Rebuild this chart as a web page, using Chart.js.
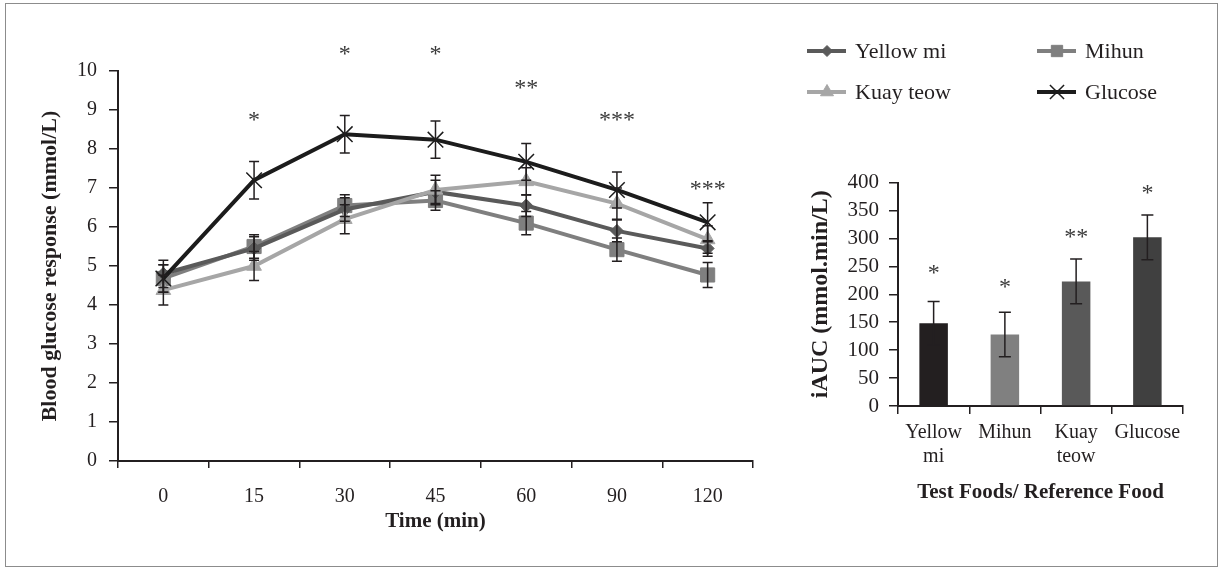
<!DOCTYPE html>
<html>
<head>
<meta charset="utf-8">
<script src="https://cdn.jsdelivr.net/npm/chart.js@4.4.1/dist/chart.umd.min.js"></script>
<style>
  body { margin: 0; background: #fff; }
  #wrap { position: relative; width: 1220px; height: 569px; }
  #frame { position: absolute; left: 5px; top: 3px; width: 1211px; height: 562px; border: 1.5px solid #8c8c8c; }
  #lineChart { position: absolute; left: 0; top: 0; }
  #barChart { position: absolute; left: 790px; top: 160px; }
</style>
</head>
<body>
<div id="wrap">
  <div id="frame"></div>
  <canvas id="lineChart" width="1220" height="569"></canvas>
  <canvas id="barChart" width="420" height="350"></canvas>
</div>
<script>
// time course (mmol/L)
const timePoints = ['0', '15', '30', '45', '60', '90', '120'];
const yellowMi = [4.8, 5.45, 6.45, 6.9, 6.55, 5.9, 5.45];
const yellowMiErr = [0.35, 0.3, 0.3, 0.3, 0.28, 0.28, 0.2];
const mihun = [4.68, 5.5, 6.55, 6.68, 6.1, 5.42, 4.77];
const mihunErr = [0.35, 0.3, 0.28, 0.25, 0.3, 0.3, 0.32];
const kuayTeow = [4.38, 5.0, 6.2, 6.95, 7.17, 6.6, 5.68];
const kuayTeowErr = [0.38, 0.37, 0.37, 0.38, 0.35, 0.4, 0.35];
const glucose = [4.68, 7.2, 8.38, 8.24, 7.67, 6.95, 6.12];
const glucoseErr = [0.35, 0.48, 0.48, 0.48, 0.47, 0.46, 0.5];
const lineSig = ['', '*', '*', '*', '**', '***', '***'];
const lineSigLevel = [null, 8.82, 10.49, 10.49, 9.62, 8.82, 7.05];

// iAUC (mmol.min/L)
const foods = [['Yellow', 'mi'], 'Mihun', ['Kuay', 'teow'], 'Glucose'];
const iauc = [148, 128, 223, 302];
const iaucErr = [39, 40, 40, 40];
const barSig = ['*', '*', '**', '*'];
const barSigLevel = [243, 217, 308, 386];

const FONT = "'Liberation Serif', 'Times New Roman', serif";
const INK = '#231f20';

const errorBars = {
  id: 'errorBars',
  afterDatasetsDraw(chart) {
    const ctx = chart.ctx;
    const yScale = chart.scales.y;
    ctx.save();
    ctx.strokeStyle = INK;
    ctx.lineWidth = 1.5;
    chart.data.datasets.forEach((ds, i) => {
      if (!ds.errors) return;
      const meta = chart.getDatasetMeta(i);
      meta.data.forEach((el, j) => {
        const v = ds.data[j], e = ds.errors[j];
        const x = el.x;
        const top = yScale.getPixelForValue(v + e);
        const bot = yScale.getPixelForValue(v - e);
        const cap = ds.capWidth || 4;
        ctx.beginPath();
        ctx.moveTo(x, top); ctx.lineTo(x, bot);
        ctx.moveTo(x - cap, top); ctx.lineTo(x + cap, top);
        ctx.moveTo(x - cap, bot); ctx.lineTo(x + cap, bot);
        ctx.stroke();
      });
    });
    ctx.restore();
  }
};

function sigPlugin(marks, levels, size) {
  return {
    id: 'sigMarks',
    afterDraw(chart) {
      const ctx = chart.ctx;
      const meta = chart.getDatasetMeta(0);
      ctx.save();
      ctx.font = size + 'px ' + FONT;
      ctx.fillStyle = '#3a3a3a';
      ctx.textAlign = 'center';
      ctx.textBaseline = 'alphabetic';
      marks.forEach((m, i) => {
        if (!m) return;
        const y = chart.scales.y.getPixelForValue(levels[i]);
        ctx.fillText(m, meta.data[i].x, y + size * 0.4);
      });
      ctx.restore();
    }
  };
}

const sideLegend = {
  id: 'sideLegend',
  afterDraw(chart) {
    const ctx = chart.ctx;
    ctx.save();
    chart.data.datasets.forEach((ds, i) => {
      const col = i % 2, row = Math.floor(i / 2);
      const x = 807 + col * 230, y = 51 + row * 41;
      ctx.strokeStyle = ds.borderColor;
      ctx.lineWidth = 4;
      ctx.beginPath();
      ctx.moveTo(x, y); ctx.lineTo(x + 39, y);
      ctx.stroke();
      ctx.fillStyle = ds.pointBackgroundColor;
      ctx.strokeStyle = ds.pointBorderColor;
      ctx.lineWidth = ds.pointBorderWidth;
      Chart.helpers.drawPoint(ctx, {
        pointStyle: ds.pointStyle,
        radius: ds.legendRadius,
        rotation: 0,
        borderWidth: ds.pointBorderWidth
      }, x + 20, y);
      ctx.fillStyle = INK;
      ctx.font = '22px ' + FONT;
      ctx.textBaseline = 'middle';
      ctx.textAlign = 'left';
      ctx.fillText(ds.label, x + 48, y + 1);
    });
    ctx.restore();
  }
};

function series(label, data, errors, color, style, radius, legendRadius, order) {
  return {
    label, data, errors, order,
    borderColor: color,
    borderWidth: 4,
    tension: 0,
    fill: false,
    pointStyle: style,
    pointRadius: radius,
    legendRadius,
    pointBackgroundColor: color,
    pointBorderColor: color,
    pointBorderWidth: style === 'crossRot' ? 1.5 : 1,
    capWidth: 5
  };
}

new Chart(document.getElementById('lineChart'), {
  type: 'line',
  data: {
    labels: timePoints,
    datasets: [
      series('Yellow mi', yellowMi, yellowMiErr, '#5a5a5a', 'rectRot', 6.5, 5.5, 2),
      series('Mihun', mihun, mihunErr, '#7f7f7f', 'rect', 10, 8, 3),
      series('Kuay teow', kuayTeow, kuayTeowErr, '#a6a6a6', 'triangle', 8.5, 7.5, 1),
      series('Glucose', glucose, glucoseErr, '#1c1c1c', 'crossRot', 11, 10, 0)
    ]
  },
  options: {
    responsive: false,
    animation: false,
    layout: { padding: { left: 0, top: 71, right: 467, bottom: 0 } },
    plugins: { legend: { display: false }, tooltip: { enabled: false } },
    scales: {
      x: {
        offset: true,
        grid: { offset: true, drawOnChartArea: false, tickLength: 7, color: INK, lineWidth: 1.5 },
        border: { color: INK, width: 2 },
        ticks: { font: { family: FONT, size: 20 }, color: INK, padding: 17, maxRotation: 0 },
        title: {
          display: true, text: 'Time (min)', color: INK,
          font: { family: FONT, size: 21, weight: 'bold' },
          padding: { top: 0, bottom: 35 }
        },
        afterFit(s) { s.height = 108; }
      },
      y: {
        min: 0, max: 10,
        grid: { drawOnChartArea: false, tickLength: 9, color: INK, lineWidth: 1.5 },
        border: { color: INK, width: 2 },
        ticks: { stepSize: 1, autoSkip: false, font: { family: FONT, size: 20 }, color: INK, padding: 12 },
        title: {
          display: true, text: 'Blood glucose response (mmol/L)', color: INK,
          font: { family: FONT, size: 22, weight: 'bold' },
          padding: { top: 37, bottom: 0 }
        },
        afterFit(s) { s.width = 118; }
      }
    }
  },
  plugins: [errorBars, sigPlugin(lineSig, lineSigLevel, 24), sideLegend]
});

new Chart(document.getElementById('barChart'), {
  type: 'bar',
  data: {
    labels: foods,
    datasets: [{
      data: iauc,
      errors: iaucErr,
      capWidth: 6,
      backgroundColor: ['#231f20', '#808080', '#595959', '#404040'],
      barPercentage: 0.4,
      categoryPercentage: 1
    }]
  },
  options: {
    responsive: false,
    animation: false,
    layout: { padding: { left: 0, top: 19, right: 27, bottom: 0 } },
    plugins: { legend: { display: false }, tooltip: { enabled: false } },
    scales: {
      x: {
        grid: { drawOnChartArea: false, tickLength: 8, color: INK, lineWidth: 1.5 },
        border: { color: INK, width: 2 },
        ticks: {
          font: { family: FONT, size: 20, lineHeight: 1.2 }, color: INK, padding: 7,
          maxRotation: 0, minRotation: 0, autoSkip: false
        },
        title: {
          display: true, text: 'Test Foods/ Reference Food', color: INK,
          font: { family: FONT, size: 21, weight: 'bold' },
          padding: { top: 0, bottom: 5 }
        },
        afterFit(s) { s.height = 104; }
      },
      y: {
        min: 0, max: 400,
        grid: { drawOnChartArea: false, tickLength: 9, color: INK, lineWidth: 1.5 },
        border: { color: INK, width: 2 },
        ticks: { stepSize: 50, autoSkip: false, font: { family: FONT, size: 21 }, color: INK, padding: 10 },
        title: {
          display: true, text: 'iAUC (mmol.min/L)', color: INK,
          font: { family: FONT, size: 24, weight: 'bold' },
          padding: { top: 16, bottom: 0 }
        },
        afterFit(s) { s.width = 108; }
      }
    }
  },
  plugins: [errorBars, sigPlugin(barSig, barSigLevel, 24)]
});
</script>
</body>
</html>
